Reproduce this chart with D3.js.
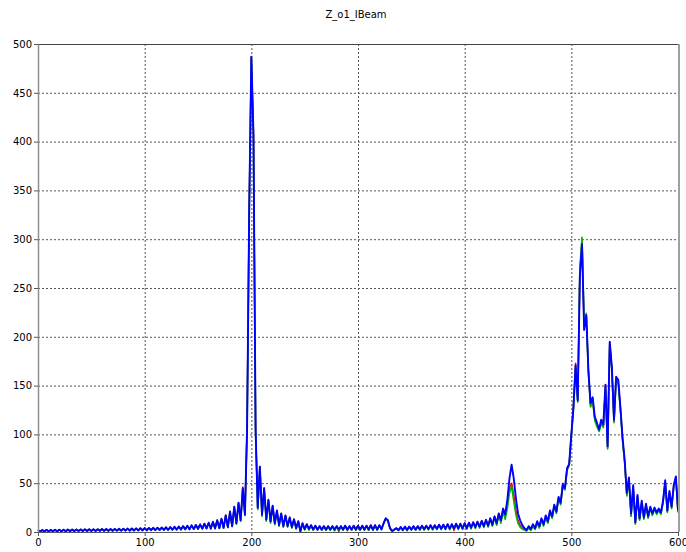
<!DOCTYPE html>
<html>
<head>
<meta charset="utf-8">
<script src="https://cdn.jsdelivr.net/npm/d3@7"></script>
<style>
  body { margin: 0; background: #fff; }
  svg text { font-family: "DejaVu Sans", sans-serif; font-size: 10px; fill: #000; }
</style>
</head>
<body>
<div id="chart"></div>
<script>
// samples every 2 units from 0 to 600
var xStep = 2;
var xTicks = [0, 100, 200, 300, 400, 500, 600];
var yTicks = [0, 50, 100, 150, 200, 250, 300, 350, 400, 450, 500];

var redSeries = [
  2,0.4,2,0.5,2.2,0.5,2.2,0.6,2.3,0.6,
  2.4,0.7,2.4,0.7,2.5,0.8,2.5,0.8,2.6,0.9,
  2.6,0.9,2.7,0.9,2.8,1,2.8,1,2.9,1.1,
  3,1.1,3,1.2,3.1,1.2,3.2,1.3,3.3,1.3,
  3.4,1.4,3.5,1.4,3.6,1.5,3.7,1.6,3.8,1.6,
  4,1.7,4.1,1.8,4.3,1.9,4.4,2,4.6,2.1,
  4.8,2.2,5,2.3,5.3,2.4,5.6,2.5,6,2.6,
  6.3,2.7,6.8,2.9,7.2,3.1,7.8,3.3,8.5,3.6,
  9.5,3.4,10.5,3.6,12,3.8,13.5,4.1,17.5,4.8,
  21,5.8,26,8.5,30,11.5,46,17.5,106,331,
  487,407,105,24,67,17,45,12,33,10,
  27,8,22,6.5,19,5.5,17,5.5,15,4.5,
  13,3.5,11,0.6,9,2.5,8,2.5,7,2,
  6.5,2,6,2,6,1.5,6,2,6,1.2,
  6,0.6,6,2,6.5,1.4,6,2,6.5,2,
  6.5,2,6.5,2,6.5,2,7,2,7,2,
  7,2.5,9,14,12,3.8,0.9,2.2,3.8,1.8,
  5,1.8,5.5,1.2,5.5,2.2,6,2.2,6,2.4,
  6.5,2.5,6.5,2.6,7,2.7,7,2.8,7.5,3,
  7.5,3,8,3.1,8,1.5,8.5,3.3,8.5,3.4,
  9,3.5,9.5,4,10,4.5,10.5,5,11.5,5.5,
  12.5,6,14,7,16,8.5,19,11,24,17,
  30,45,50,38,22,12,7,4,2.5,1.5,
  5,2,7,3,10,5,13,7,16,10,
  21,15,27,20,35,29,50,44,66,69,
  99,130,173,134,265,299,210,223,165,130,
  136,116,110,104,113,108,150,86,194,167,
  113,158,154,126,95,72,38,54,17,46,
  9,37,13,31,14,28,15,25,18,24,
  19,23,19,31,52,21,41,25,47,56,
  21
];

var greenSeries = [
  1.9,0.3,2,0.4,2.1,0.4,2.2,0.5,2.2,0.5,
  2.3,0.6,2.4,0.6,2.4,0.7,2.5,0.7,2.5,0.8,
  2.6,0.8,2.6,0.8,2.7,0.9,2.8,0.9,2.8,1,
  2.9,1,3,1.1,3,1.1,3.1,1.2,3.2,1.2,
  3.3,1.3,3.4,1.3,3.5,1.4,3.6,1.5,3.7,1.5,
  3.9,1.6,4,1.7,4.2,1.8,4.3,1.9,4.5,2,
  4.7,2,4.9,2.1,5.2,2.2,5.5,2.3,5.8,2.5,
  6.2,2.6,6.6,2.8,7.1,3,7.6,3.2,8.3,3.4,
  9.3,3.2,10.3,3.4,11.8,3.6,13.2,3.9,16.5,4.5,
  20.5,5.5,25,8,29.5,11,44,17,103,328,
  485,405,103,23,66,16,44,11,32,9,
  26,7.5,21,6,18,5,16,5,14,4,
  12.5,3,10.5,0.5,8.5,2,7.5,2,6.5,1.8,
  6,1.8,5.8,1.8,5.8,1.8,5.8,1.8,5.8,1.8,
  5.8,1.8,5.8,1.8,6.2,1.8,5.8,1.8,6.2,1.8,
  6.2,1.8,6.2,1.8,6.2,1.8,6.6,1.8,6.6,1.8,
  6.6,2.2,8.5,13.5,11.5,3.5,0.8,2,3.5,1.5,
  4.6,1.5,5,1.7,5,1.8,5.5,1.8,5.5,2,
  6,2,6,2.2,6.5,2.2,6.5,2.4,7,2.4,
  7,2.5,7.5,2.5,7.5,2.6,8,2.6,8,2.7,
  8.5,2.8,9,3.2,9.5,3.6,10,4,11,4.5,
  12,5,13,6,15,7,17,9,21,13,
  24,40,47,32,18,9,5,3,2,1,
  4,1.5,6,2.5,9,4,12,6,15,9,
  20,14,26,19,34,28,47,43,63,68,
  98,126,168,133,270,302,214,224,163,128,
  134,114,108,103,111,107,148,85,192,165,
  112,156,152,125,94,71,37,53,16,45,
  8,36,12,30,13,27,14,24,17,23,
  18,22,18,30,51,20,40,24,46,55,
  20
];

var blueSeries = [
  2,0.5,2,0.6,2.2,0.6,2.2,0.7,2.3,0.7,
  2.4,0.8,2.4,0.8,2.5,0.9,2.5,0.9,2.6,1,
  2.6,1,2.7,1,2.8,1.1,2.8,1.1,2.9,1.2,
  3,1.2,3,1.3,3.1,1.3,3.2,1.4,3.3,1.4,
  3.4,1.5,3.5,1.5,3.6,1.6,3.7,1.7,3.8,1.8,
  4,1.8,4.1,1.9,4.3,2,4.4,2.1,4.6,2.2,
  4.8,2.3,5,2.4,5.3,2.5,5.6,2.6,6,2.8,
  6.3,2.9,6.8,3.1,7.2,3.3,7.8,3.5,8.5,3.8,
  9.5,3.6,10.5,3.8,12,4,13.5,4.3,17,5,
  21,6,26,9,30,12,45,18,105,330,
  487,408,105,25,67,18,45,13,33,11,
  27,9,22,7,19,6,17,6,15,5,
  13,4,11,0.8,9,3,8,3,7,2.5,
  6.5,2.5,6,2.5,6,2.5,6,2.5,6,2.5,
  6,2.5,6,2.5,6.5,2.5,6,2.5,6.5,2.5,
  6.5,2.5,6.5,2.5,6.5,2.5,7,2.5,7,2.5,
  7,3,9,14,12,4,1,2.5,4,2,
  5,2,5.5,2.3,5.5,2.5,6,2.5,6,2.7,
  6.5,2.8,6.5,3,7,3,7,3.2,7.5,3.3,
  7.5,3.4,8,3.5,8,3.6,8.5,3.7,8.5,3.8,
  9,4,9.5,4.5,10,5,10.5,5.5,11.5,6,
  12.5,6.5,14,7.5,16,9,19,12,24,18,
  33,55,69,55,35,19,12,7,4,2,
  6,3,8,4,11,6,14,8,17,11,
  22,16,28,21,36,30,49,45,65,70,
  100,128,171,135,262,295,207,222,166,132,
  138,118,112,105,115,110,151,88,195,169,
  115,159,156,128,97,74,40,56,19,48,
  10,38,14,32,15,29,16,26,19,25,
  20,24,20,32,53,22,42,26,48,57,
  22
];

var width = 686, height = 552;
var margin = {top: 44, right: 8, bottom: 20, left: 38};

var svg = d3.select("#chart").append("svg")
    .attr("width", width)
    .attr("height", height);

var x = d3.scaleLinear().domain([0, 600]).range([margin.left, width - margin.right]);
var y = d3.scaleLinear().domain([0, 500]).range([height - margin.bottom, margin.top]);

svg.append("text")
    .attr("x", 356)
    .attr("y", 18)
    .attr("text-anchor", "middle")
    .text("Z_o1_IBeam");

// grid
var grid = svg.append("g").attr("stroke", "#555").attr("stroke-dasharray", "2,2");
grid.selectAll("line.v")
    .data(xTicks.slice(1, -1))
    .join("line")
    .attr("x1", d => x(d) + 0.5).attr("x2", d => x(d) + 0.5)
    .attr("y1", y(500)).attr("y2", y(0));
grid.selectAll("line.h")
    .data(yTicks.slice(1, -1))
    .join("line")
    .attr("y1", d => y(d) + 0.5).attr("y2", d => y(d) + 0.5)
    .attr("x1", x(0)).attr("x2", x(600));

// series
var line = d3.line()
    .x((d, i) => x(i * xStep))
    .y(d => y(d));

var series = [
  {values: redSeries, color: "#ff0000", w: 1.5},
  {values: greenSeries, color: "#00b400", w: 1.6},
  {values: blueSeries, color: "#0000ff", w: 1.9}
];

svg.append("g").selectAll("path")
    .data(series)
    .join("path")
    .attr("fill", "none")
    .attr("stroke", d => d.color)
    .attr("stroke-width", d => d.w)
    .attr("stroke-linejoin", "round")
    .attr("d", d => line(d.values));

// frame
svg.append("line")
    .attr("x1", x(0)).attr("x2", x(600))
    .attr("y1", y(500) + 0.5).attr("y2", y(500) + 0.5)
    .attr("stroke", "#444");
svg.append("line")
    .attr("x1", x(600) + 1).attr("x2", x(600) + 1)
    .attr("y1", y(500)).attr("y2", y(0))
    .attr("stroke", "#a0a0a0").attr("stroke-width", 2);

var xAxis = svg.append("g")
    .attr("transform", "translate(0," + y(0) + ")")
    .call(d3.axisBottom(x).tickValues(xTicks).tickSize(4).tickSizeOuter(0).tickPadding(3));
var yAxis = svg.append("g")
    .attr("transform", "translate(" + x(0) + ",0)")
    .call(d3.axisLeft(y).tickValues(yTicks).tickSize(4).tickSizeOuter(0).tickPadding(2));

xAxis.select(".domain").attr("stroke", "#555");
yAxis.select(".domain").attr("stroke", "#909090").attr("stroke-width", 1.5);
svg.selectAll(".tick line").attr("stroke", "#555");
svg.selectAll(".tick text").attr("font-family", "DejaVu Sans").attr("font-size", 10).attr("fill", "#000");
</script>
</body>
</html>
